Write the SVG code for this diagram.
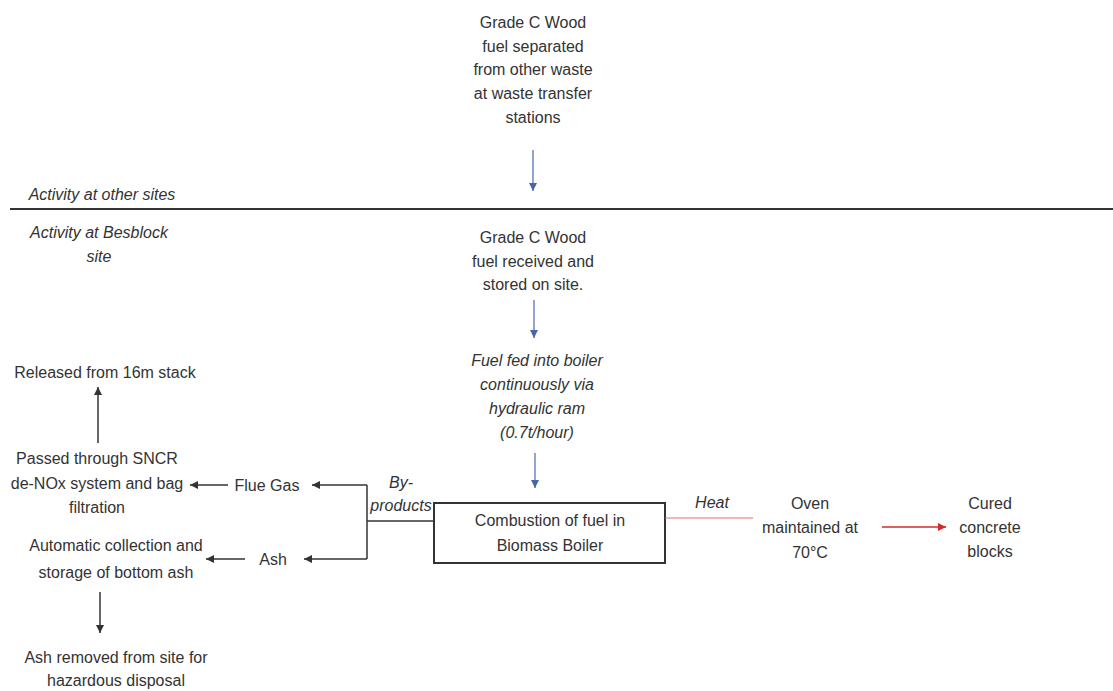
<svg xmlns="http://www.w3.org/2000/svg" width="1113" height="691" viewBox="0 0 1113 691">
<style>
text{font-family:"Liberation Sans",Arial,sans-serif;font-size:16px;fill:#333;text-anchor:middle}
.it{font-style:italic}
.bk{stroke:#333;stroke-width:1.5;fill:none}
.bl{stroke:#5b74b8;stroke-width:1.3;fill:none}
.rd{stroke:#d42a2a;stroke-width:1.5;fill:none}
.lr{stroke:#e07070;stroke-width:1.2;fill:none}
</style>
<defs>
<marker id="ab" markerUnits="userSpaceOnUse" markerWidth="10" markerHeight="10" refX="8" refY="4" orient="auto"><path d="M0,0L8,4L0,8z" fill="#333"/></marker>
<marker id="abl" markerUnits="userSpaceOnUse" markerWidth="10" markerHeight="10" refX="8" refY="4" orient="auto"><path d="M0,0L8,4L0,8z" fill="#4a64a8"/></marker>
<marker id="ard" markerUnits="userSpaceOnUse" markerWidth="10" markerHeight="10" refX="8" refY="4" orient="auto"><path d="M0,0L8,4L0,8z" fill="#d42a2a"/></marker>
</defs>

<g id="divider">
<line x1="10" y1="209" x2="1113" y2="209" stroke="#333" stroke-width="2"/>
<text class="it" x="102" y="200">Activity at other sites</text>
<text class="it" x="99" y="238">Activity at Besblock</text>
<text class="it" x="99" y="262">site</text>
</g>

<g id="n-separated">
<text x="533" y="28">Grade C Wood</text>
<text x="533" y="52">fuel separated</text>
<text x="533" y="75">from other waste</text>
<text x="533" y="99">at waste transfer</text>
<text x="533" y="123">stations</text>
</g>

<g id="n-received">
<text x="533" y="243">Grade C Wood</text>
<text x="533" y="267">fuel received and</text>
<text x="533" y="290">stored on site.</text>
</g>

<g id="n-fed">
<text class="it" x="537" y="366">Fuel fed into boiler</text>
<text class="it" x="537" y="390">continuously via</text>
<text class="it" x="537" y="414">hydraulic ram</text>
<text class="it" x="537" y="438">(0.7t/hour)</text>
</g>

<g id="n-boiler">
<rect x="434" y="503" width="231" height="60" fill="#fff" stroke="#333" stroke-width="2"/>
<text x="550" y="526">Combustion of fuel in</text>
<text x="550" y="551">Biomass Boiler</text>
</g>

<g id="n-oven">
<text x="810" y="509">Oven</text>
<text x="810" y="533">maintained at</text>
<text x="810" y="558">70°C</text>
</g>

<g id="n-cured">
<text x="990" y="509">Cured</text>
<text x="990" y="533">concrete</text>
<text x="990" y="557">blocks</text>
</g>

<g id="n-stack">
<text x="105" y="378">Released from 16m stack</text>
</g>

<g id="n-sncr">
<text x="97" y="464">Passed through SNCR</text>
<text x="97" y="489">de-NOx system and bag</text>
<text x="97" y="513">filtration</text>
</g>

<g id="n-fluegas">
<text x="267" y="491">Flue Gas</text>
</g>

<g id="n-ash">
<text x="273" y="565">Ash</text>
</g>

<g id="n-collection">
<text x="116" y="551">Automatic collection and</text>
<text x="116" y="578">storage of bottom ash</text>
</g>

<g id="n-removed">
<text x="116" y="663">Ash removed from site for</text>
<text x="116" y="686">hazardous disposal</text>
</g>

<g id="connectors">
<line class="bl" x1="533" y1="150" x2="533" y2="191" marker-end="url(#abl)"/>
<line class="bl" x1="534" y1="300" x2="534" y2="338" marker-end="url(#abl)"/>
<line class="bl" x1="535" y1="453" x2="535" y2="488" marker-end="url(#abl)"/>
<line class="lr" x1="665" y1="518" x2="753" y2="518"/>
<text class="it" x="712" y="508">Heat</text>
<line class="rd" x1="882" y1="527" x2="946" y2="527" marker-end="url(#ard)"/>
<polyline class="bk" points="434,521 367,521"/>
<polyline class="bk" points="367,485 367,559"/>
<line class="bk" x1="367" y1="485" x2="312" y2="485" marker-end="url(#ab)"/>
<line class="bk" x1="367" y1="559" x2="304" y2="559" marker-end="url(#ab)"/>
<text class="it" x="401" y="488">By-</text>
<text class="it" x="401" y="511">products</text>
<line class="bk" x1="228" y1="485" x2="190" y2="485" marker-end="url(#ab)"/>
<line class="bk" x1="245" y1="559" x2="206" y2="559" marker-end="url(#ab)"/>
<line class="bk" x1="98" y1="443" x2="98" y2="387" marker-end="url(#ab)"/>
<line class="bk" x1="100" y1="592" x2="100" y2="633" marker-end="url(#ab)"/>
</g>
</svg>
